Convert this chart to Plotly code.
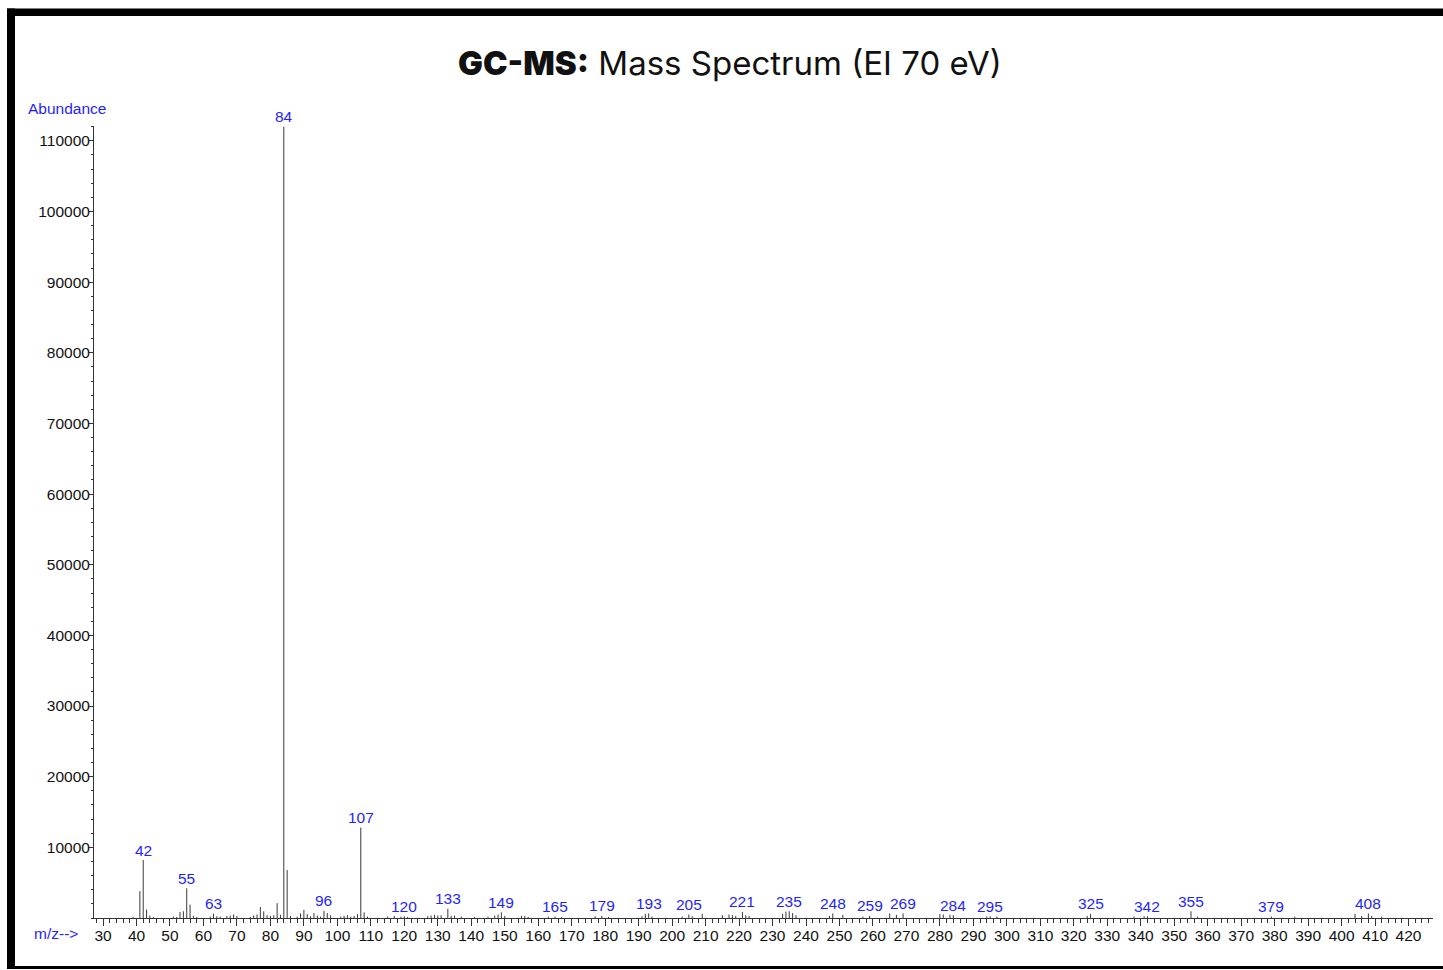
import plotly.graph_objects as go

# ---- data ----
mz = [39, 41, 42, 43, 44, 45, 51, 52, 53, 54, 55, 56, 57, 58, 62, 63, 64, 65, 67, 68, 69, 70,
      74, 75, 76, 77, 78, 79, 80, 81, 82, 83, 84, 85, 86, 88, 89, 90, 91, 92, 93, 94, 95, 96,
      97, 98, 101, 102, 103, 104, 105, 106, 107, 108, 109,
      115, 117, 119, 120, 121, 127, 128, 129, 130, 131, 133, 134, 135, 137, 141, 145, 147, 148,
      149, 150, 155, 156, 157, 163, 165, 167, 177, 179, 181, 191, 192, 193, 194, 203, 205, 206,
      209, 215, 217, 218, 219, 221, 222, 223, 233, 234, 235, 236, 237, 247, 248, 251, 257, 259,
      265, 267, 269, 280, 281, 283, 284, 294, 295, 297, 324, 325, 338, 341, 342, 355, 357, 379,
      386, 404, 406, 408, 409, 412]
abundance = [150, 3800, 8200, 1200, 350, 150, 200, 150, 850, 950, 4200, 1900, 300, 150, 200, 600,
             250, 200, 300, 350, 500, 300,
             150, 350, 500, 1550, 950, 400, 300, 400, 2100, 450, 112000, 6800, 300, 200, 650, 1150,
             550, 250, 700, 350, 200, 1000,
             700, 400, 200, 300, 400, 200, 300, 550, 12800, 800, 200,
             200, 300, 200, 250, 150, 250, 350, 450, 350, 400, 1300, 300, 350, 200, 150, 200, 350,
             500,
             800, 300, 300, 300, 150, 200, 200, 150, 250, 300, 150, 250, 600, 650, 200, 200, 500,
             250,
             600, 400, 500, 400, 300, 850, 400, 300, 600, 900, 950, 700, 400, 300, 650, 450, 200,
             300,
             650, 450, 650, 550, 500, 450, 400, 200, 250, 200, 300, 600, 200, 250, 250, 950, 200,
             200,
             200, 600, 300, 650, 300, 200]

labeled_peaks = [42, 55, 63, 84, 96, 107, 120, 133, 149, 165, 179, 193, 205, 221, 235, 248, 259,
                 269, 284, 295, 325, 342, 355, 379, 408]

y_tick_values = [10000, 20000, 30000, 40000, 50000, 60000, 70000, 80000, 90000, 100000, 110000]
x_tick_values = list(range(30, 421, 10))

title_bold = "GC-MS:"
title_rest = " Mass Spectrum (EI 70 eV)"
y_label = "Abundance"
x_label = "m/z-->"

# ---- geometry ----
W, H = 1443, 970
ML, MR, MT, MB = 94, 10, 126, 52
PW, PH = W - ML - MR, H - MT - MB
XR = [27.3, 427.3]
YR = [0, 112100]
BLUE = "#1f1fff"
FONT = "Liberation Sans, Arial, sans-serif"


def px_x(p):
    return (p - ML) / PW


def px_y(p):
    return (H - MB - p) / PH


# stick spectrum
xs, ys = [], []
for m, a in zip(mz, abundance):
    xs += [m, m, None]
    ys += [0, a, None]

fig = go.Figure()
fig.add_trace(go.Scatter(x=xs, y=ys, mode="lines",
                         line=dict(color="#3a3a3a", width=1),
                         hoverinfo="skip", showlegend=False))

ab_map = dict(zip(mz, abundance))
annotations = []
for m in labeled_peaks:
    annotations.append(dict(x=m, y=ab_map[m], xref="x", yref="y", text=str(m),
                            showarrow=False, xanchor="center", yanchor="middle", yshift=10,
                            font=dict(family=FONT, size=15.5, color=BLUE)))

annotations.append(dict(x=px_x(26), y=px_y(108), xref="paper", yref="paper", text=y_label,
                        showarrow=False, xanchor="left", yanchor="middle",
                        font=dict(family=FONT, size=15.5, color=BLUE)))
annotations.append(dict(x=px_x(32), y=px_y(933), xref="paper", yref="paper", text=x_label,
                        showarrow=False, xanchor="left", yanchor="middle",
                        font=dict(family=FONT, size=15.5, color=BLUE)))

annotations.append(dict(x=px_x(729.5), y=px_y(63), xref="paper", yref="paper",
                        text=f"<span style='font-weight:900'>{title_bold}</span>{title_rest}",
                        showarrow=False, xanchor="center", yanchor="middle",
                        font=dict(family="Inter, Noto Sans, sans-serif", size=33, color="#111")))

shapes = [
    dict(type="rect", xref="paper", yref="paper", x0=px_x(7), x1=px_x(W + 5),
         y0=px_y(8.5), y1=px_y(16), fillcolor="black", line=dict(width=0), layer="above"),
    dict(type="rect", xref="paper", yref="paper", x0=px_x(7), x1=px_x(15),
         y0=px_y(8.5), y1=px_y(969), fillcolor="black", line=dict(width=0), layer="above"),
    dict(type="rect", xref="paper", yref="paper", x0=px_x(7), x1=px_x(W + 5),
         y0=px_y(966), y1=px_y(969), fillcolor="black", line=dict(width=0), layer="above"),
]

fig.update_layout(
    width=W, height=H,
    margin=dict(l=ML, r=MR, t=MT, b=MB, pad=0),
    paper_bgcolor="white", plot_bgcolor="white",
    showlegend=False,
    annotations=annotations,
    shapes=shapes,
    xaxis=dict(range=XR, showgrid=False, zeroline=False, showline=True,
               linecolor="#333", linewidth=1,
               tickmode="array", tickvals=x_tick_values,
               ticks="outside", ticklen=7, tickcolor="#333", tickwidth=1,
               ticklabelstandoff=-4,
               tickfont=dict(family=FONT, size=15.5, color="#111"),
               minor=dict(tickmode="linear", tick0=0, dtick=2, ticks="outside", ticklen=4,
                          tickcolor="#333", tickwidth=1, showgrid=False),
               fixedrange=True),
    yaxis=dict(range=YR, showgrid=False, zeroline=False, showline=True,
               linecolor="#333", linewidth=1,
               tickmode="array", tickvals=y_tick_values, tickformat="d",
               ticks="outside", ticklen=4, tickcolor="#333", tickwidth=1,
               ticklabelstandoff=-4,
               tickfont=dict(family=FONT, size=15.5, color="#111"),
               minor=dict(tickmode="linear", tick0=0, dtick=2000, ticks="outside", ticklen=2,
                          tickcolor="#333", tickwidth=1, showgrid=False),
               fixedrange=True),
)

fig.write_html("out.html")
